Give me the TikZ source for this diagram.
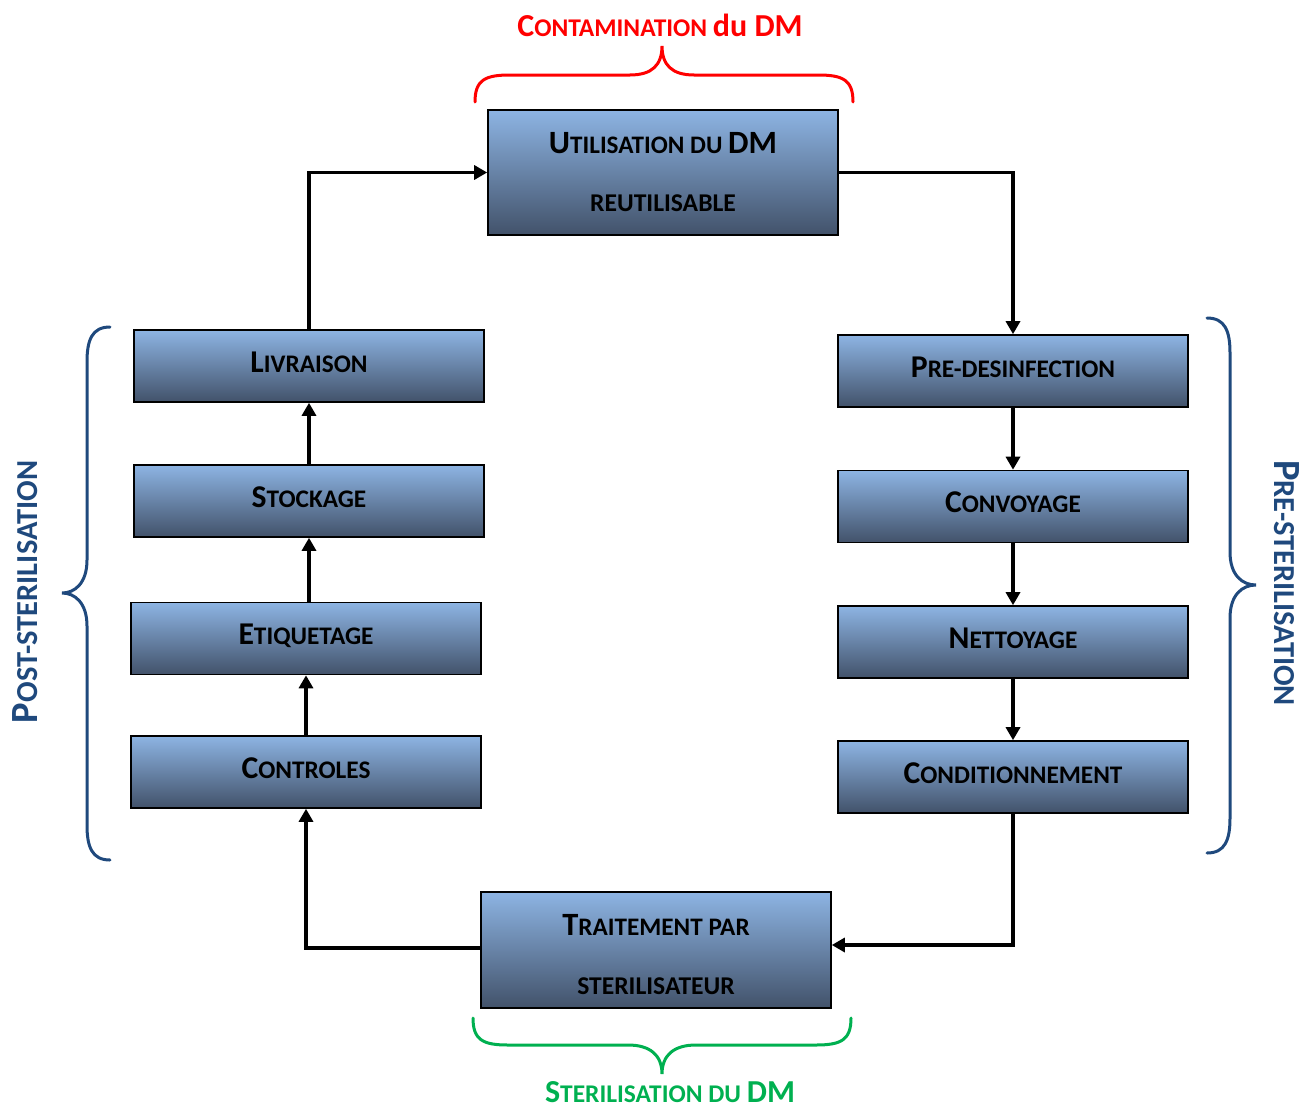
\documentclass[tikz,border=0pt]{standalone}
\usepackage{fontspec}
\setmainfont{Carlito}
\usetikzlibrary{arrows.meta}
\definecolor{boxtop}{RGB}{141,180,227}
\definecolor{boxmid}{RGB}{112,142,186}
\definecolor{boxbot}{RGB}{66,82,106}
\definecolor{navy}{RGB}{31,73,125}
\definecolor{redc}{RGB}{255,0,0}
\definecolor{greenc}{RGB}{0,176,80}
\newcommand\BigL[1]{{\fontsize{31.7}{36}\selectfont #1}}
\newcommand\SmL[1]{{\fontsize{25.3}{36}\selectfont #1}}
\newcommand\BigU[1]{{\fontsize{32.5}{36}\selectfont #1}}
\newcommand\SmU[1]{{\fontsize{25.2}{36}\selectfont #1}}
\newcommand\SmS[1]{{\fontsize{25.6}{36}\selectfont #1}}
\newcommand\BigT[1]{{\fontsize{38.5}{42}\selectfont #1}}
\newcommand\SmT[1]{{\fontsize{30.5}{42}\selectfont #1}}
\newcommand\BigH[1]{{\fontsize{32}{36}\selectfont #1}}
\newcommand\SmH[1]{{\fontsize{25.5}{36}\selectfont #1}}
\begin{document}
\begin{tikzpicture}[x=1pt,y=-1pt,
  stepbox/.style={draw=black, line width=1.6pt, top color=boxtop, middle color=boxmid, bottom color=boxbot,
    minimum width=350pt, minimum height=72pt, inner sep=0pt, font=\bfseries\fontsize{28}{34}\selectfont, align=center},
  onebox/.style={stepbox, text depth=8pt},
  arr/.style={line width=3.2pt, -{Triangle[length=13pt,width=14pt]}},
  brace/.style={line width=3pt, line cap=round},
  lbl/.style={font=\bfseries\fontsize{26}{30}\selectfont, inner sep=0pt}]
\useasboundingbox (0,0) rectangle (1303,1108);
% boxes
\node[stepbox, minimum height=125pt] (util) at (663,172.5) {\BigU{U}\SmU{TILISATION DU }\BigU{DM}\\[24pt]\SmS{REUTILISABLE}};
\node[onebox] (livr) at (309,366) {\BigL{L}\SmL{IVRAISON}};
\node[onebox] (stock) at (309,501) {\BigL{S}\SmL{TOCKAGE}};
\node[onebox] (etiq) at (306,638.5) {\BigL{E}\SmL{TIQUETAGE}};
\node[onebox] (ctrl) at (306,772) {\BigL{C}\SmL{ONTROLES}};
\node[onebox] (pre) at (1013,371) {\BigL{P}\SmL{RE-DESINFECTION}};
\node[onebox] (conv) at (1013,506.5) {\BigL{C}\SmL{ONVOYAGE}};
\node[onebox] (nett) at (1013,642) {\BigL{N}\SmL{ETTOYAGE}};
\node[onebox] (cond) at (1013,777) {\BigL{C}\SmL{ONDITIONNEMENT}};
\node[stepbox, minimum height=116pt] (trait) at (656,950) {\rule{0pt}{30pt}\BigU{T}\SmU{RAITEMENT PAR}\\[25pt]\SmS{STERILISATEUR}};
% connectors
\draw[arr] (livr.north) |- (util.west);
\draw[arr] (util.east) -| (pre.north);
\draw[arr] (pre.south) -- (conv.north);
\draw[arr] (conv.south) -- (nett.north);
\draw[arr] (nett.south) -- (cond.north);
\coordinate (tin) at ([yshift=5pt]trait.east);
\draw[arr] (cond.south) |- (tin);
\coordinate (tout) at ([yshift=2pt]trait.west);
\draw[arr] (tout) -| (ctrl.south);
\draw[arr] (ctrl.north) -- (etiq.south);
\draw[arr] (stock.south |- etiq.north) -- (stock.south);
\draw[arr] (stock.north) -- (livr.south);
% braces
\draw[brace, redc] (475,102) .. controls (475,80) and (485,75) .. (510,75) -- (630,75)
  .. controls (652,75) and (662,65) .. (662,46) .. controls (662,65) and (672,75) .. (694,75)
  -- (818,75) .. controls (843,75) and (853,80) .. (853,102);
\draw[brace, greenc] (473,1018) .. controls (473,1040) and (483,1045) .. (508,1045) -- (628,1045)
  .. controls (650,1045) and (662,1055) .. (662,1074) .. controls (662,1055) and (674,1045) .. (696,1045)
  -- (816,1045) .. controls (841,1045) and (851,1040) .. (851,1018);
\draw[brace, navy] (110,327) .. controls (92,327) and (87,340) .. (87,362) -- (87,560)
  .. controls (87,583) and (75,593) .. (62,593) .. controls (75,593) and (87,603) .. (87,626)
  -- (87,825) .. controls (87,847) and (92,860) .. (110,860);
\draw[brace, navy] (1207,318) .. controls (1225,318) and (1230,331) .. (1230,353) -- (1230,552)
  .. controls (1230,575) and (1242,585) .. (1256,585) .. controls (1242,585) and (1230,595) .. (1230,618)
  -- (1230,818) .. controls (1230,840) and (1225,853) .. (1207,853);
% labels
\node[lbl, text=redc, anchor=base] (tcont) at (660,37) {\BigH{C}\SmH{ONTAMINATION }\BigH{du DM}};
\node[lbl, text=greenc, anchor=base] (tster) at (670,1102) {\BigH{S}\SmH{TERILISATION DU }\BigH{DM}};
\node[lbl, text=navy, rotate=90] (tpost) at (25,592) {\BigT{P}\SmT{OST-STERILISATION}};
\node[lbl, text=navy, rotate=-90] (tpre) at (1287,583) {\BigT{P}\SmT{RE-STERILISATION}};
\end{tikzpicture}
\end{document}
